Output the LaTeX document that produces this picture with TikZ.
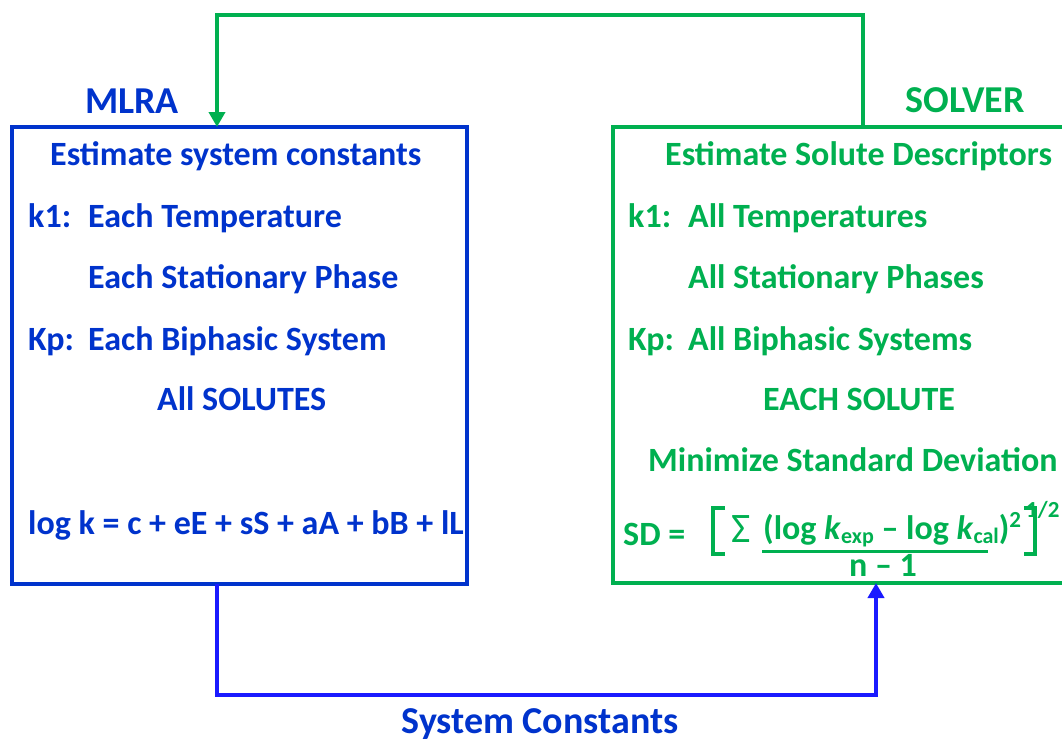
\documentclass[tikz,border=0pt]{standalone}
\usepackage{fontspec}
\setmainfont{Carlito}
\usetikzlibrary{arrows.meta}
\definecolor{mlrablue}{RGB}{0,51,204}
\definecolor{linkblue}{RGB}{26,26,255}
\definecolor{solvergreen}{RGB}{0,176,80}
\tikzset{
  body/.style={inner sep=0pt, font=\bfseries\fontsize{34}{40}\selectfont},
  heading/.style={inner sep=0pt, anchor=base, font=\bfseries\fontsize{38}{44}\selectfont},
  lefttxt/.style={body, anchor=base west},
  midtxt/.style={body, anchor=base},
  bluetxt/.style={text=mlrablue},
  greentxt/.style={text=solvergreen},
  panel/.style={draw, line width=4pt, outer sep=0pt, inner sep=0pt, anchor=north west},
  link/.style={line width=4pt, -{Triangle[width=16pt,length=15pt]}},
  bracket/.style={draw=solvergreen, line width=3.5pt},
}
\newcommand{\tagbox}[1]{\makebox[60pt][l]{#1}}
\newcommand{\sub}[1]{\raisebox{-4pt}{\fontsize{22}{22}\selectfont #1}}
\newcommand{\sqr}{\raisebox{12pt}{\fontsize{23}{23}\selectfont 2}}
\begin{document}
\begin{tikzpicture}[x=1pt,y=-1pt]
  \useasboundingbox (0,0) rectangle (1062,742);

  % the two panels
  \node[panel, draw=mlrablue, minimum width=455pt, minimum height=457pt] (mlra) at (12,127) {};
  \node[panel, draw=solvergreen, minimum width=470pt, minimum height=456pt] (solver) at (613,127) {};

  % panel titles
  \node[heading, bluetxt] (mlratitle) at (132,113) {MLRA};
  \node[heading, greentxt] (solvertitle) at (965,112) {SOLVER};

  % MLRA panel contents
  \node[lefttxt, bluetxt] (m1) at (50,165) {Estimate system constants};
  \node[lefttxt, bluetxt] (m2) at (28,227) {\tagbox{k1:}Each Temperature};
  \node[lefttxt, bluetxt] (m3) at (88,288) {Each Stationary Phase};
  \node[lefttxt, bluetxt] (m4) at (28,350) {\tagbox{Kp:}Each Biphasic System};
  \node[lefttxt, bluetxt] (m5) at (157,410) {All SOLUTES};
  \node[lefttxt, bluetxt] (m6) at (28,534) {log k = c + eE + sS + aA + bB + lL};

  % SOLVER panel contents
  \node[lefttxt, greentxt] (s1) at (665,165) {Estimate Solute Descriptors};
  \node[lefttxt, greentxt] (s2) at (628,227) {\tagbox{k1:}All Temperatures};
  \node[lefttxt, greentxt] (s3) at (688,288) {All Stationary Phases};
  \node[lefttxt, greentxt] (s4) at (628,350) {\tagbox{Kp:}All Biphasic Systems};
  \node[lefttxt, greentxt] (s5) at (763,410) {EACH SOLUTE};
  \node[lefttxt, greentxt] (s6) at (648,471) {Minimize Standard Deviation};

  % standard deviation formula
  \node[lefttxt, greentxt] (sd) at (623,545) {SD =};
  \draw[bracket] (725,508) -- (713,508) -- (713,554) -- (725,554);
  \node[anchor=base west, inner sep=0pt, text=solvergreen, font=\fontsize{42}{44}\selectfont] (sigma) at (731,542) {Σ};
  \node[lefttxt, greentxt] (num) at (763,539)
    {(log \textit{k}\sub{exp} – log \textit{k}\sub{cal})\sqr};
  \draw[solvergreen, line width=3pt] (762,551) -- (988,551);
  \node[midtxt, greentxt] (den) at (883,576) {n – 1};
  \draw[bracket] (1024,508) -- (1035,508) -- (1035,554) -- (1024,554);
  \node[anchor=base west, inner sep=0pt, text=solvergreen, font=\bfseries\fontsize{23}{23}\selectfont] (half) at (1026,517) {1/2};

  % feedback loop: descriptors back to MLRA
  \coordinate (g1) at (863,15);
  \coordinate (g2) at (217,15);
  \draw[link, solvergreen] (g1 |- solver.north) -- (g1) -- (g2) -- (g2 |- mlra.north);

  % system constants forwarded to SOLVER
  \coordinate (b1) at (217,695);
  \coordinate (b2) at (876,695);
  \draw[link, linkblue] (b1 |- mlra.south) -- (b1) -- (b2) -- (b2 |- solver.south);
  \node[heading, bluetxt] (constants) at (540,733) {System Constants};
\end{tikzpicture}
\end{document}
